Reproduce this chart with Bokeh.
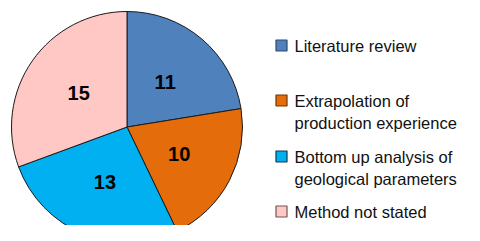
import numpy as np
from bokeh.plotting import figure
from bokeh.models import ColumnDataSource, Range1d
from bokeh.core.properties import value
from bokeh.embed import file_html
from bokeh.resources import INLINE

# ---- data ----
categories = ["Literature review",
              "Extrapolation of\nproduction experience",
              "Bottom up analysis of\ngeological parameters",
              "Method not stated"]
counts = [11, 10, 13, 15]
fill_colors = ["#4F81BD", "#E46C0A", "#00B0F0", "#FFC8C5"]
edge_colors = ["#2E4A6E", "#6E3505", "#0B3A4E", "#6E5656"]

# ---- layout (pixel-like data space, y up) ----
W, H = 464, 225
cx, cy, R = 126.5, H - 126.5, 115.5
label_frac = 0.51
FONT = "Liberation Sans"

p = figure(width=W, height=H, output_backend="svg", toolbar_location=None,
           x_range=Range1d(0, W), y_range=Range1d(0, H), min_border=0)
p.axis.visible = False
p.grid.visible = False
p.outline_line_color = None
p.background_fill_color = "white"
p.border_fill_color = "white"

vals = np.array(counts, dtype=float)
frac = vals / vals.sum()
cum = np.concatenate([[0], np.cumsum(frac)])
# clockwise from 12 o'clock
start = np.pi / 2 - cum[1:] * 2 * np.pi
end = np.pi / 2 - cum[:-1] * 2 * np.pi
mid = (start + end) / 2

src = ColumnDataSource(dict(start=start, end=end, color=fill_colors,
                            x=[cx] * len(counts), y=[cy] * len(counts)))
p.wedge(x="x", y="y", radius=R, start_angle="start", end_angle="end",
        fill_color="color", line_color="#1a1a1a", line_width=1, source=src)

lsrc = ColumnDataSource(dict(x=cx + label_frac * R * np.cos(mid),
                             y=cy + label_frac * R * np.sin(mid),
                             t=[str(c) for c in counts]))
p.text(x="x", y="y", text="t", source=lsrc, text_font=value(FONT),
       text_font_size="20px", text_font_style="bold", text_color="black",
       text_align="center", text_baseline="middle")

# ---- legend (manual) ----
leg_sq_x = 281
leg_txt_x = 294
leg_ys = [H - 45, H - 100, H - 156, H - 211]
line_h = 22.5
sq = 11

p.rect(x=[leg_sq_x] * 4, y=leg_ys, width=sq, height=sq,
       fill_color=fill_colors, line_color=edge_colors, line_width=1.2)

tx, ty, tt = [], [], []
for cat, yy in zip(categories, leg_ys):
    for i, line in enumerate(cat.split("\n")):
        tx.append(leg_txt_x)
        ty.append(yy - i * line_h)
        tt.append(line)
p.text(x=tx, y=ty, text=tt, text_font=value(FONT), text_font_size="16.5px",
       text_color="#111111", text_align="left", text_baseline="middle")

open("out.html", "w").write(file_html(p, INLINE))
